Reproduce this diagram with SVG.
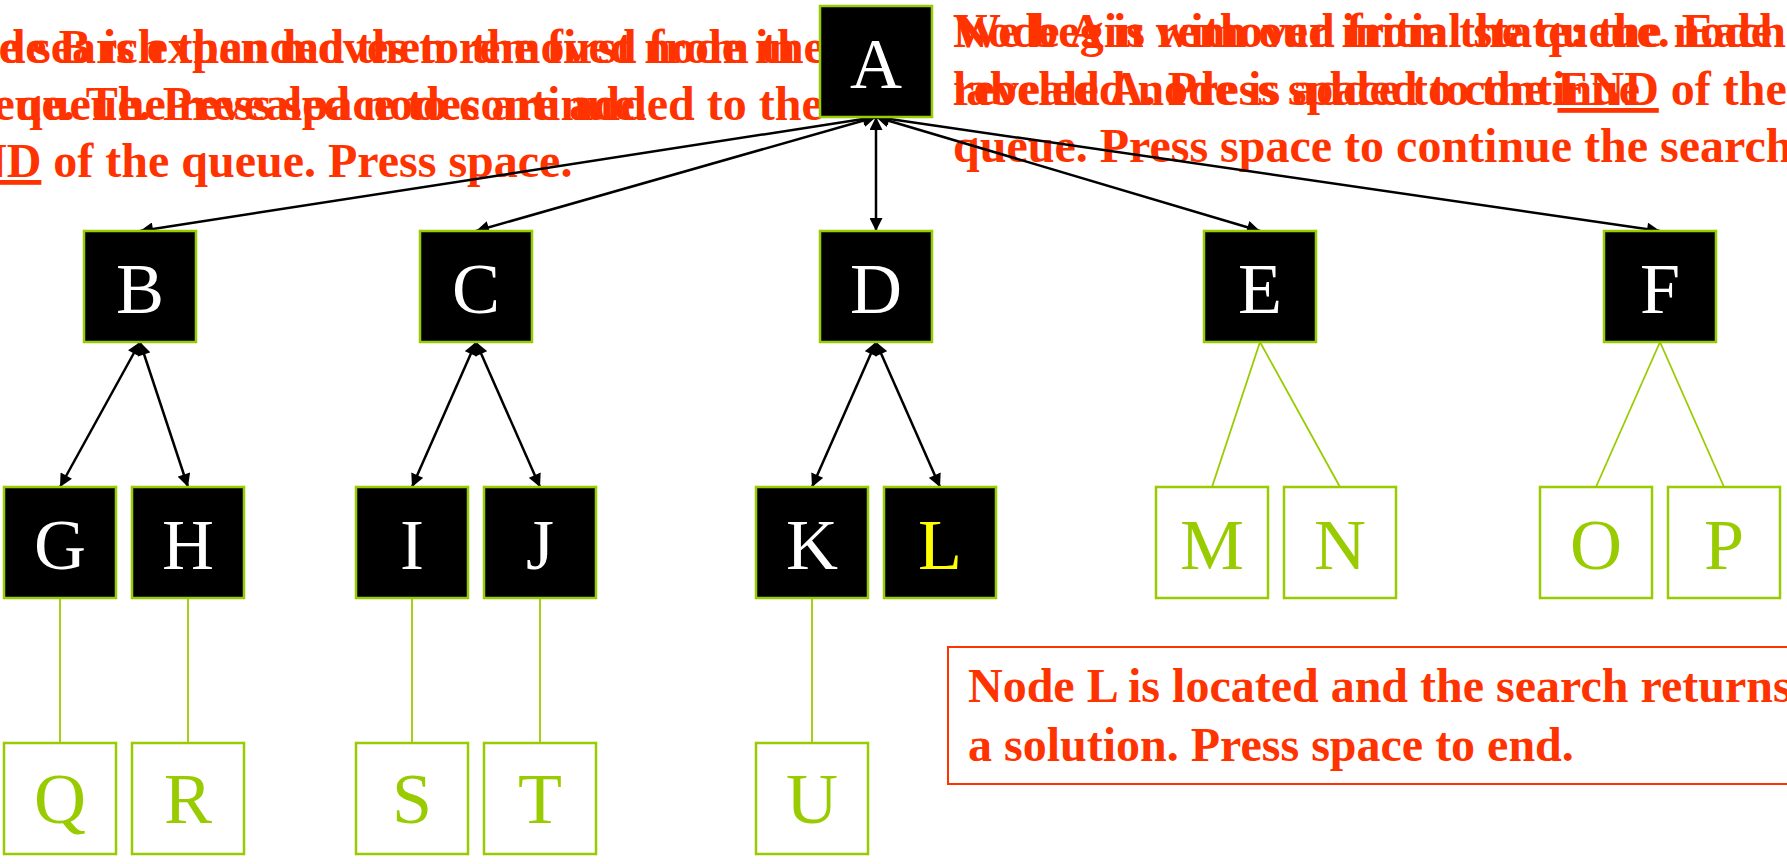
<svg xmlns="http://www.w3.org/2000/svg" width="1787" height="864" viewBox="0 0 1787 864">
<style>
.bg{fill:#ffffff}
.msg{font-family:"Liberation Serif","Times New Roman",serif;font-weight:bold;font-size:48px;fill:#ff3300}
.dark{fill:#000000;stroke:#99cc00;stroke-width:2.5}
.light{fill:#ffffff;stroke:#99cc00;stroke-width:2.5}
.lbl{font-family:"Liberation Serif","Times New Roman",serif;font-size:72px;text-anchor:middle}
.w{fill:#ffffff}
.y{fill:#ffff00}
.g{fill:#99cc00}
.arr{stroke:#000000;stroke-width:2.5;fill:none;marker-start:url(#ah);marker-end:url(#ah)}
.gl{stroke:#99cc00;stroke-width:1.8;fill:none}
.u{text-decoration:underline}
</style>
<defs>
<marker id="ah" viewBox="0 0 10 10" refX="10" refY="5" markerWidth="15" markerHeight="13" markerUnits="userSpaceOnUse" orient="auto-start-reverse">
<path d="M0,0 L10,5 L0,10 z" fill="#000000"/>
</marker>
</defs>
<rect class="bg" x="0" y="0" width="1787" height="864"/>

<g id="text-left">
<text class="msg" x="-60" y="63">Node B is expanded then removed from the</text>
<text class="msg" x="-60" y="120">queue. The revealed nodes are added to the</text>
<text class="msg" x="-60" y="177"><tspan class="u">END</tspan> of the queue. Press space.</text>
<text class="msg" x="-60" y="63">The search then moves to the first node in</text>
<text class="msg" x="-60" y="120">the queue. Press space to continue.</text>
</g>

<g id="text-right">
<text class="msg" x="953" y="47">Node A is removed from the queue. Each</text>
<text class="msg" x="953" y="105">revealed node is added to the <tspan class="u">END</tspan> of the</text>
<text class="msg" x="953" y="162">queue. Press space to continue the search.</text>
<text class="msg" x="953" y="47">We begin with our initial state: the node</text>
<text class="msg" x="953" y="105">labeled A. Press space to continue</text>
</g>

<g id="connectors">
<line class="arr" x1="876" y1="117" x2="140" y2="231"/>
<line class="arr" x1="876" y1="117" x2="476" y2="231"/>
<line class="arr" x1="876" y1="117" x2="876" y2="231"/>
<line class="arr" x1="876" y1="117" x2="1260" y2="231"/>
<line class="arr" x1="876" y1="117" x2="1660" y2="231"/>
<line class="arr" x1="140" y1="342" x2="60" y2="487"/>
<line class="arr" x1="140" y1="342" x2="188" y2="487"/>
<line class="arr" x1="476" y1="342" x2="412" y2="487"/>
<line class="arr" x1="476" y1="342" x2="540" y2="487"/>
<line class="arr" x1="876" y1="342" x2="812" y2="487"/>
<line class="arr" x1="876" y1="342" x2="940" y2="487"/>
<line class="gl" x1="1260" y1="342" x2="1212" y2="487"/>
<line class="gl" x1="1260" y1="342" x2="1340" y2="487"/>
<line class="gl" x1="1660" y1="342" x2="1596" y2="487"/>
<line class="gl" x1="1660" y1="342" x2="1724" y2="487"/>
<line class="gl" x1="60" y1="598" x2="60" y2="743"/>
<line class="gl" x1="188" y1="598" x2="188" y2="743"/>
<line class="gl" x1="412" y1="598" x2="412" y2="743"/>
<line class="gl" x1="540" y1="598" x2="540" y2="743"/>
<line class="gl" x1="812" y1="598" x2="812" y2="743"/>
</g>

<g id="node-A"><rect class="dark" x="820" y="6" width="112" height="111"/><text class="lbl w" x="876" y="88">A</text></g>
<g id="node-B"><rect class="dark" x="84" y="231" width="112" height="111"/><text class="lbl w" x="140" y="313">B</text></g>
<g id="node-C"><rect class="dark" x="420" y="231" width="112" height="111"/><text class="lbl w" x="476" y="313">C</text></g>
<g id="node-D"><rect class="dark" x="820" y="231" width="112" height="111"/><text class="lbl w" x="876" y="313">D</text></g>
<g id="node-E"><rect class="dark" x="1204" y="231" width="112" height="111"/><text class="lbl w" x="1260" y="313">E</text></g>
<g id="node-F"><rect class="dark" x="1604" y="231" width="112" height="111"/><text class="lbl w" x="1660" y="313">F</text></g>

<g id="node-G"><rect class="dark" x="4" y="487" width="112" height="111"/><text class="lbl w" x="60" y="569">G</text></g>
<g id="node-H"><rect class="dark" x="132" y="487" width="112" height="111"/><text class="lbl w" x="188" y="569">H</text></g>
<g id="node-I"><rect class="dark" x="356" y="487" width="112" height="111"/><text class="lbl w" x="412" y="569">I</text></g>
<g id="node-J"><rect class="dark" x="484" y="487" width="112" height="111"/><text class="lbl w" x="540" y="569">J</text></g>
<g id="node-K"><rect class="dark" x="756" y="487" width="112" height="111"/><text class="lbl w" x="812" y="569">K</text></g>
<g id="node-L"><rect class="dark" x="884" y="487" width="112" height="111"/><text class="lbl y" x="940" y="569">L</text></g>
<g id="node-M"><rect class="light" x="1156" y="487" width="112" height="111"/><text class="lbl g" x="1212" y="569">M</text></g>
<g id="node-N"><rect class="light" x="1284" y="487" width="112" height="111"/><text class="lbl g" x="1340" y="569">N</text></g>
<g id="node-O"><rect class="light" x="1540" y="487" width="112" height="111"/><text class="lbl g" x="1596" y="569">O</text></g>
<g id="node-P"><rect class="light" x="1668" y="487" width="112" height="111"/><text class="lbl g" x="1724" y="569">P</text></g>

<g id="node-Q"><rect class="light" x="4" y="743" width="112" height="111"/><text class="lbl g" x="60" y="823">Q</text></g>
<g id="node-R"><rect class="light" x="132" y="743" width="112" height="111"/><text class="lbl g" x="188" y="823">R</text></g>
<g id="node-S"><rect class="light" x="356" y="743" width="112" height="111"/><text class="lbl g" x="412" y="823">S</text></g>
<g id="node-T"><rect class="light" x="484" y="743" width="112" height="111"/><text class="lbl g" x="540" y="823">T</text></g>
<g id="node-U"><rect class="light" x="756" y="743" width="112" height="111"/><text class="lbl g" x="812" y="823">U</text></g>

<g id="result-box">
<rect x="948" y="647" width="860" height="137" fill="#ffffff" stroke="#ff3300" stroke-width="2"/>
<text class="msg" x="968" y="702">Node L is located and the search returns</text>
<text class="msg" x="968" y="761">a solution. Press space to end.</text>
</g>
</svg>
